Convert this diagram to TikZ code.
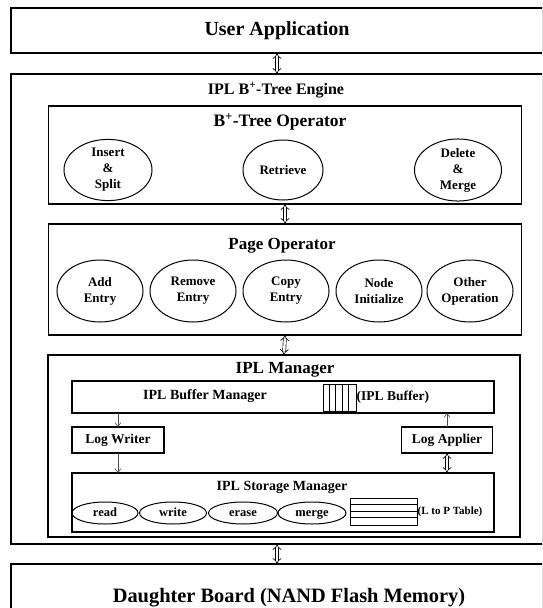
\documentclass[tikz,border=0pt]{standalone}
\usepackage{fontspec}
\setmainfont{Liberation Serif}
\usetikzlibrary{shapes.geometric,arrows.meta,calc}

\tikzset{
	layerbox/.style={draw, line width=1.2pt, inner sep=0pt, outer sep=0pt},
	oval/.style={draw, ellipse, line width=1pt, inner sep=0pt, align=center},
	txt/.style={font=\bfseries\fontsize{#1}{16}\selectfont, inner sep=0pt, align=center},
	dblarrow/.style={double, double distance=2.4pt, line width=0.65pt, {Implies}-{Implies}},
	onearrow/.style={line width=0.6pt, draw=black!70, -{Straight Barb[length=4pt, width=6pt]}},
}

\begin{document}
	\begin{tikzpicture}[x=1pt, y=-1pt]

		\useasboundingbox (0,0) rectangle (542,608);
		\clip (0,0) rectangle (542,608);

		% top layer
		\node[layerbox, minimum width=532, minimum height=45, txt=20] (user) at (277,30.5) {User Application};

		% engine
		\node[layerbox, minimum width=532, minimum height=470] (engine) at (277,309) {};
		\node[txt=16] (enginetitle) at (276,90) {IPL B\textsuperscript{+}-Tree Engine};

		\node[layerbox, minimum width=473, minimum height=98] (btree) at (285,155) {};
		\node[txt=17.5] (btreetitle) at (280,122) {B\textsuperscript{+}-Tree Operator};
		\node[oval, minimum width=88, minimum height=60, txt=13] (insert) at (108,170) {Insert\\\&\\Split};
		\node[oval, minimum width=80, minimum height=60, txt=13] (retrieve) at (283,170) {Retrieve};
		\node[oval, minimum width=87, minimum height=60, txt=13] (delete) at (458,170) {Delete\\\&\\Merge};

		\node[layerbox, minimum width=473, minimum height=111] (page) at (285,279.5) {};
		\node[txt=17] (pagetitle) at (282,246) {Page Operator};
		\foreach \name/\x/\lbl in {add/100/{Add\\Entry}, remove/193/{Remove\\Entry}, copy/286/{Copy\\Entry},
			init/379/{Node\\Initialize}, other/470/{Other\\Operation}}
			\node[oval, minimum width=86, minimum height=62, txt=13] (\name) at (\x,291) {\lbl};

		% ipl manager
		\node[layerbox, minimum width=472, minimum height=182] (iplmgr) at (284,446) {};
		\node[txt=17] (iplmgrtitle) at (285,370) {IPL Manager};

		\node[layerbox, minimum width=422, minimum height=32] (buffer) at (283,397) {};
		\node[txt=14] (buffertitle) at (205,396) {IPL Buffer Manager};
		\node[draw, line width=1pt, minimum width=33, minimum height=27, inner sep=0pt] (bufcells) at (339.5,397.5) {};
		\foreach \i in {1,...,4}
			\draw[line width=1pt] ($(bufcells.north west)+(\i*6.6,0)$) -- ($(bufcells.south west)+(\i*6.6,0)$);
		\node[txt=13.5, anchor=west] (buflabel) at (bufcells.east) {(IPL Buffer)};

		\node[layerbox, minimum width=92, minimum height=26, txt=13.5] (writer) at (118,440) {Log Writer};
		\node[layerbox, minimum width=91, minimum height=26, txt=13.5] (applier) at (447,440) {Log Applier};

		\node[layerbox, minimum width=422, minimum height=59] (storage) at (283,502.5) {};
		\node[txt=14] (storagetitle) at (282,487) {IPL Storage Manager};
		\foreach \name/\x/\w in {read/105/66, write/173/67, erase/243/69, merge/312/68}
			\node[oval, minimum width=\w, minimum height=22, txt=12.5, text height=8.5pt, text depth=2.5pt] (\name) at (\x,513) {\name};
		\node[draw, line width=1pt, minimum width=67, minimum height=27, inner sep=0pt] (ltop) at (383.5,511.5) {};
		\foreach \i in {1,...,3}
			\draw[line width=1pt] ($(ltop.north west)+(0,\i*6.75)$) -- ($(ltop.north east)+(0,\i*6.75)$);
		\node[txt=11, anchor=west] (ltoplabel) at (ltop.east) {(L to P Table)};

		% flash board
		\node[layerbox, minimum width=532, minimum height=86] (board) at (277,607) {};
		\node[txt=20.4] (boardtitle) at (289,598) {Daughter Board (NAND Flash Memory)};

		\draw[dblarrow] (user.south) -- (engine.north);
		\draw[dblarrow] (btree.south) -- (page.north);
		\draw[dblarrow] (page.south) -- (iplmgr.north);
		\draw[onearrow] (buffer.south -| writer) -- (writer.north);
		\draw[onearrow] (writer.south) -- (storage.north -| writer);
		\draw[onearrow] (applier.north) -- (buffer.south -| applier);
		\draw[dblarrow] (applier.south) -- (storage.north -| applier);
		\draw[dblarrow] (engine.south) -- (board.north);

	\end{tikzpicture}
\end{document}
